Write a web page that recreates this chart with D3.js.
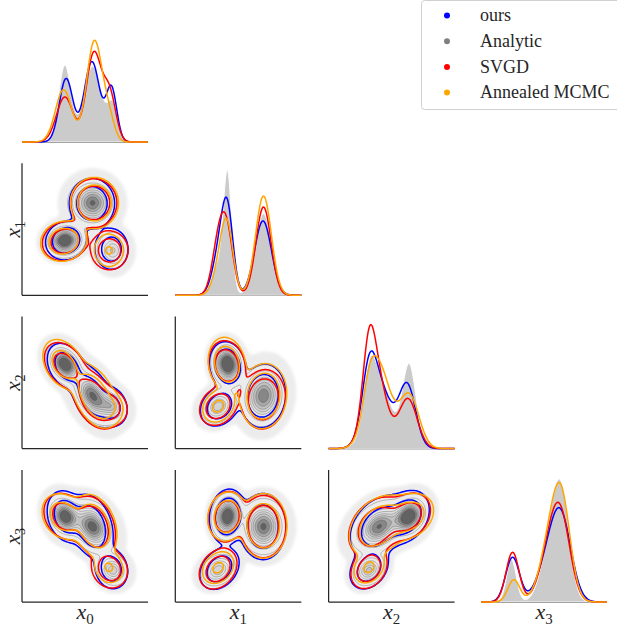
<!DOCTYPE html>
<html>
<head>
<meta charset="utf-8">
<script src="https://cdn.jsdelivr.net/npm/d3@7"></script>
<style>
  body { margin: 0; background: #fff; }
  svg { display: block; }
  .lbl { font-family: "Liberation Serif", "DejaVu Serif", serif; }
</style>
</head>
<body>
<svg id="chart" width="617" height="627"></svg>
<script>
// ---- variables and axis ranges ----
const variables = ["0", "1", "2", "3"];
const domains = [[0, 10], [0, 10], [0, 8.3], [0, 9.1]];
// extra smoothing (kernel bandwidth) used by the 2D density estimates
const bandwidth2d = [0.41, 0.41, 0.34, 0.37];

// ---- Gaussian-mixture description of each model (3 components, 4 variables) ----
// Analytic target
const analyticWeights = [0.36, 0.50, 0.14];
const analyticMeans = [[3.4, 4.15, 5.31, 5.9], [5.6, 7.0, 3.32, 5.2], [7.2, 3.4, 2.66, 2.2]];
const analyticSds   = [[0.5, 0.33, 0.46, 0.55], [0.7, 0.65, 0.75, 0.72], [0.42, 0.5, 0.37, 0.35]];

// ours
const oursWeights = [0.32, 0.47, 0.21];
const oursMeans = [[3.5, 4.15, 5.19, 5.9], [5.55, 6.96, 3.32, 5.2], [7.1, 3.5, 2.66, 2.28]];
const oursSds   = [[0.536, 0.45, 0.55, 0.7], [0.62, 0.67, 0.8, 0.9], [0.42, 0.55, 0.45, 0.5]];

// SVGD
const svgdWeights = [0.28, 0.50, 0.22];
const svgdMeans = [[3.4, 4.1, 5.23, 5.9], [5.7, 7.0, 3.1, 5.2], [6.95, 3.4, 2.66, 2.28]];
const svgdSds   = [[0.66, 0.5, 0.6, 0.65], [0.6, 0.6, 0.7, 0.8], [0.5, 0.5, 0.4, 0.47]];

// Annealed MCMC
const mcmcWeights = [0.32, 0.59, 0.09];
const mcmcMeans = [[3.3, 4.1, 5.31, 5.9], [5.75, 7.0, 3.3, 5.25], [6.9, 3.4, 2.66, 2.37]];
const mcmcSds   = [[0.65, 0.49, 0.64, 0.6], [0.62, 0.63, 0.76, 0.82], [0.45, 0.5, 0.4, 0.43]];

// within-component correlations for variable pairs (0,1),(0,2),(0,3),(1,2),(1,3),(2,3)
const pairs = [[0, 1], [0, 2], [0, 3], [1, 2], [1, 3], [2, 3]];
const componentCorr = [
  [0.15, -0.45, -0.3, -0.2, 0.15, 0.35],
  [0.0, -0.55, -0.35, 0.1, 0.0, 0.4],
  [0.0, -0.3, -0.2, 0.35, 0.45, 0.45]
];

// legend entries
const legendNames = ["ours", "Analytic", "SVGD", "Annealed MCMC"];
const legendColors = ["#0000ff", "#808080", "#ff0000", "#ffa500"];

// iso-proportion levels
const methodLevels = [0.05, 0.3];
const analyticLevels = [0.002, 0.05, 0.155, 0.26, 0.365, 0.47, 0.575, 0.68, 0.785, 0.89];

const models = {
  analytic: { w: analyticWeights, m: analyticMeans, s: analyticSds },
  ours: { w: oursWeights, m: oursMeans, s: oursSds, color: "#0000ff" },
  svgd: { w: svgdWeights, m: svgdMeans, s: svgdSds, color: "#ff0000" },
  mcmc: { w: mcmcWeights, m: mcmcMeans, s: mcmcSds, color: "#ffa500" }
};
const lineModels = ["ours", "svgd", "mcmc"];

// ---- layout ----
const panelW = 126, panelH = 132;
const colLeft = [22, 175.3, 328.6, 481];
const rowTop = [10, 163.3, 316.6, 470];

const svg = d3.select("#chart");
const defs = svg.append("defs");
defs.append("filter").attr("id", "soft").attr("x", "-10%").attr("y", "-10%").attr("width", "120%").attr("height", "120%")
  .append("feGaussianBlur").attr("stdDeviation", 1.4);

const xScales = variables.map((v, k) =>
  d3.scaleLinear().domain(domains[k]).range([colLeft[k], colLeft[k] + panelW]));
const yScales = variables.map((v, k) =>
  d3.scaleLinear().domain(domains[k]).range([rowTop[k] + panelH, rowTop[k]]));

// ---- densities ----
function pdf1(model, k, x) {
  let s = 0;
  for (let c = 0; c < model.w.length; c++) {
    const sd = model.s[c][k], z = (x - model.m[c][k]) / sd;
    s += model.w[c] * Math.exp(-0.5 * z * z) / (sd * Math.sqrt(2 * Math.PI));
  }
  return s;
}
function corrOf(c, i, j) {
  const a = Math.min(i, j), b = Math.max(i, j);
  const idx = pairs.findIndex(p => p[0] === a && p[1] === b);
  return componentCorr[c][idx];
}
function pdf2(model, j, i, x, y) {
  let s = 0;
  for (let c = 0; c < model.w.length; c++) {
    const sj = model.s[c][j], si = model.s[c][i];
    const cov = corrOf(c, i, j) * sj * si;
    const vx = sj * sj + bandwidth2d[j] ** 2, vy = si * si + bandwidth2d[i] ** 2;
    const sx = Math.sqrt(vx), sy = Math.sqrt(vy), r = cov / (sx * sy);
    const dx = (x - model.m[c][j]) / sx, dy = (y - model.m[c][i]) / sy, q = 1 - r * r;
    s += model.w[c] * Math.exp(-(dx * dx - 2 * r * dx * dy + dy * dy) / (2 * q)) /
      (2 * Math.PI * sx * sy * Math.sqrt(q));
  }
  return s;
}
function isoLevels(values, props) {
  const sorted = Float64Array.from(values).sort().reverse();
  const total = d3.sum(sorted);
  let cum = 0; const cums = new Float64Array(sorted.length);
  for (let i = 0; i < sorted.length; i++) { cum += sorted[i]; cums[i] = cum / total; }
  return props.map(p => {
    let idx = d3.bisectLeft(cums, 1 - p);
    idx = Math.min(idx, sorted.length - 1);
    return sorted[idx];
  });
}

// ---- diagonal: 1D marginals on a shared density axis ----
const nx1 = 252;
const diagData = variables.map((v, k) => {
  const xs = d3.range(nx1 + 1).map(t => domains[k][0] + (domains[k][1] - domains[k][0]) * t / nx1);
  const out = {};
  for (const key of Object.keys(models)) out[key] = xs.map(x => [x, pdf1(models[key], k, x)]);
  return out;
});
const globalMax = d3.max(diagData, d => d3.max(Object.values(d), arr => d3.max(arr, p => p[1])));

variables.forEach((v, k) => {
  const g = svg.append("g");
  const x = xScales[k];
  const y = d3.scaleLinear().domain([0, globalMax * 1.05]).range([rowTop[k] + panelH, rowTop[k]]);
  g.append("line").attr("x1", colLeft[k]).attr("x2", colLeft[k] + panelW)
    .attr("y1", rowTop[k] + panelH).attr("y2", rowTop[k] + panelH)
    .attr("stroke", "#262626").attr("stroke-width", 1.25);
  const area = d3.area().x(p => x(p[0])).y0(y(0)).y1(p => y(p[1])).curve(d3.curveBasis);
  g.append("path").attr("d", area(diagData[k].analytic))
    .attr("fill", "#cbcbcb").attr("stroke", "#fff").attr("stroke-width", 1);
  const line = d3.line().x(p => x(p[0])).y(p => y(p[1])).curve(d3.curveBasis);
  lineModels.forEach(key => {
    g.append("path").attr("d", line(diagData[k][key]))
      .attr("fill", "none").attr("stroke", models[key].color).attr("stroke-width", 1.5);
  });
});

// ---- lower triangle: 2D marginal contours ----
const contourGen = d3.contours().size([panelW, panelH]);
const path = d3.geoPath();
const greyFill = i => d3.interpolateGreys(0.14 + 0.55 * Math.pow(i / (analyticLevels.length - 1), 2.4));

for (let i = 1; i < 4; i++) {
  for (let j = 0; j < i; j++) {
    const x = xScales[j], y = yScales[i];
    const g = svg.append("g").attr("transform", `translate(${colLeft[j]},${rowTop[i]})`);
    const grid = key => {
      const vals = new Float64Array(panelW * panelH);
      for (let gy = 0; gy < panelH; gy++) {
        const yv = y.invert(rowTop[i] + gy + 0.5);
        for (let gx = 0; gx < panelW; gx++) {
          const xv = x.invert(colLeft[j] + gx + 0.5);
          vals[gy * panelW + gx] = pdf2(models[key], j, i, xv, yv);
        }
      }
      return vals;
    };
    // analytic: filled levels plus thin contour lines
    const av = grid("analytic");
    const aLev = isoLevels(av, analyticLevels);
    aLev.forEach((t, idx) => {
      g.append("path").attr("d", path(contourGen.contour(av, t))).attr("fill", greyFill(idx))
        .attr("filter", idx === 0 ? "url(#soft)" : null);
    });
    aLev.slice(1).forEach(t => {
      g.append("path").attr("d", path(contourGen.contour(av, t))).attr("fill", "none")
        .attr("stroke", "#444").attr("stroke-width", 0.55).attr("stroke-opacity", 0.6);
    });
    // sampler contours
    lineModels.forEach(key => {
      const mv = grid(key);
      isoLevels(mv, methodLevels).forEach(t => {
        g.append("path").attr("d", path(contourGen.contour(mv, t))).attr("fill", "none")
          .attr("stroke", models[key].color).attr("stroke-width", 1.5)
          .attr("stroke-linejoin", "round");
      });
    });
    // spines
    svg.append("line").attr("x1", colLeft[j]).attr("x2", colLeft[j])
      .attr("y1", rowTop[i]).attr("y2", rowTop[i] + panelH)
      .attr("stroke", "#262626").attr("stroke-width", 1.25);
    svg.append("line").attr("x1", colLeft[j]).attr("x2", colLeft[j] + panelW)
      .attr("y1", rowTop[i] + panelH).attr("y2", rowTop[i] + panelH)
      .attr("stroke", "#262626").attr("stroke-width", 1.25);
  }
}

// ---- axis labels ----
function mathLabel(sel, sub, size) {
  sel.append("tspan").attr("font-style", "italic").attr("font-size", size).text("x");
  sel.append("tspan").attr("font-size", size * 0.68).attr("dy", size * 0.23).text(sub);
}
variables.forEach((v, k) => {
  const t = svg.append("text").attr("class", "lbl").attr("fill", "#262626")
    .attr("x", colLeft[k] + panelW / 2).attr("y", 619).attr("text-anchor", "middle");
  mathLabel(t, v, 22);
});
variables.forEach((v, k) => {
  if (k === 0) return;
  const cy = rowTop[k] + panelH / 2;
  const t = svg.append("text").attr("class", "lbl").attr("fill", "#262626")
    .attr("transform", `translate(20,${cy}) rotate(-90)`).attr("text-anchor", "middle");
  mathLabel(t, v, 21);
});

// ---- legend ----
const lg = svg.append("g");
lg.append("rect").attr("x", 421.5).attr("y", 0.5).attr("width", 210).attr("height", 109)
  .attr("rx", 3).attr("fill", "#fff").attr("fill-opacity", 0.8)
  .attr("stroke", "#d0d0d0").attr("stroke-width", 1);
legendNames.forEach((name, idx) => {
  const cy = 15.5 + idx * 25.7;
  lg.append("circle").attr("cx", 447).attr("cy", cy).attr("r", 3).attr("fill", legendColors[idx]);
  lg.append("text").attr("class", "lbl").attr("x", 480).attr("y", cy + 5.8)
    .attr("font-size", 18).attr("fill", "#262626").text(name);
});
</script>
</body>
</html>
